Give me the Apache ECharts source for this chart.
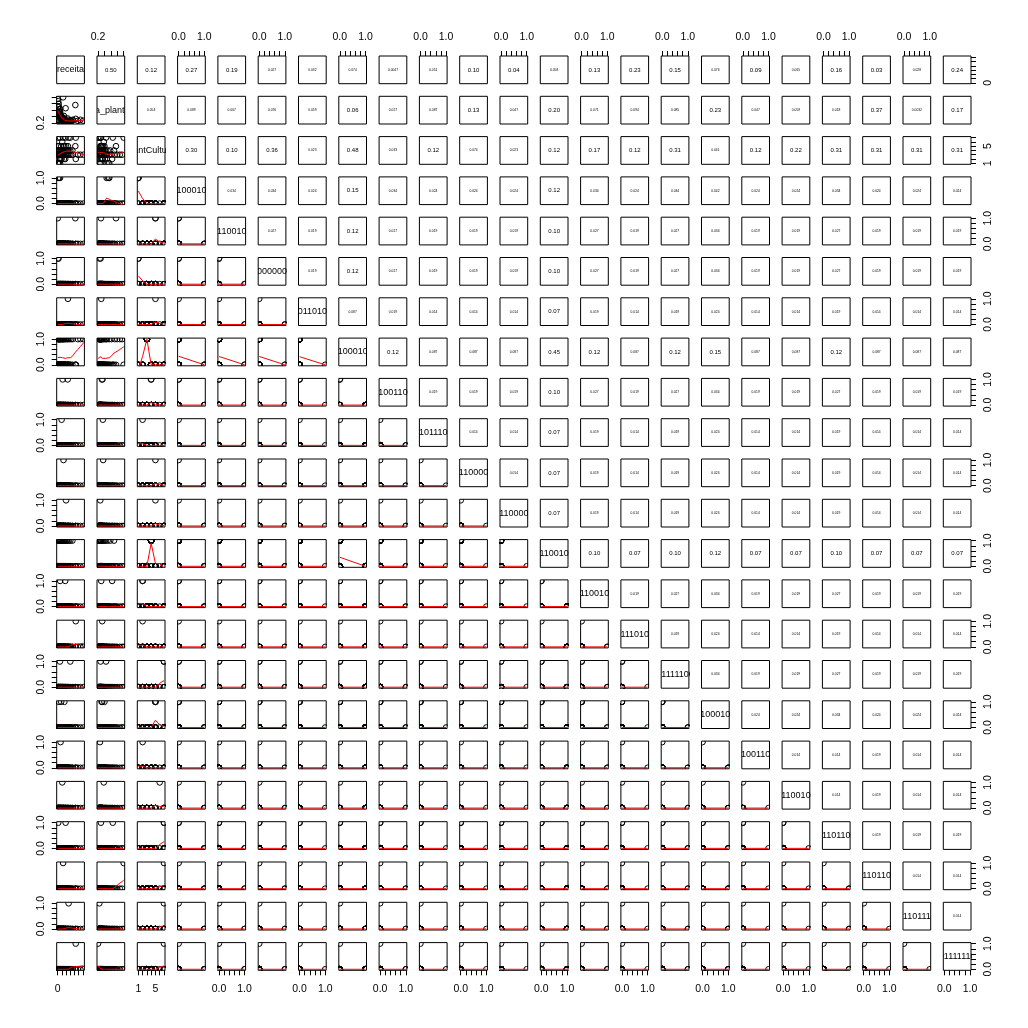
<!DOCTYPE html>
<html><head><meta charset="utf-8">
<script src="https://cdn.jsdelivr.net/npm/echarts@6/dist/echarts.min.js"></script>
<style>html,body{margin:0;padding:0;background:#fff}#c{width:1028px;height:1028px}</style>
</head><body><div id="c"></div>
<script>
// ---------------- data ----------------
const varNames = ["receita", "area_plantada", "quantCulturas",
  "01000100", "01100100", "00000000", "00110100", "01000100", "01001100", "01011100", "01100000",
  "01100000", "01100100", "01100100", "01110100", "01111100", "01000100", "01001100", "01100100",
  "01101100", "01101100", "01101110", "01111110"];

// one entry per observation (72)
const receita = [12,35,58,5,22, 150,95,180,60,430,70,
  3,15,28,40,52,66,80,95,110,125,140,160,180,200,225,250,280,320,360,25,45,70,130,480,540,
  120,240,
  8,20,35,48,62,78,92,105,118,135,150,170,190,210,235,265,300,350,
  4,420,245,140,200,30,85,160,
  110,
  55,300,15,190,130,260,430];
const areaPlantada = [0.52,0.47,0.55,0.25,0.28, 0.42,0.35,0.30,0.64,0.33,0.26,
  0.95,0.88,0.72,0.62,0.55,0.48,0.42,0.38,0.35,0.33,0.30,0.28,0.27,0.25,0.24,0.22,0.23,0.26,0.30,0.80,0.45,0.31,0.29,0.27,0.30,
  0.32,0.34,
  0.70,0.58,0.50,0.44,0.40,0.37,0.34,0.31,0.29,0.27,0.25,0.24,0.23,0.22,0.21,0.22,0.24,0.28,
  0.29,0.76,0.30,0.36,0.27,0.40,0.33,0.31,
  0.38,
  0.45,0.28,0.29,0.66,1.00,0.24,0.20];
const quantCulturas = [1,1,1,1,1, 2,2,2,2,2,2,
  3,3,3,3,3,3,3,3,3,3,3,3,3,3,3,3,3,3,3,3,3,3,3,3,3,
  4,4,
  4,4,4,4,4,4,4,4,4,4,4,4,4,4,4,4,4,4,
  5,5,5,5,5,5,5,5,
  6,
  7,7,7,7,7,7,7];
// which binary column (4..23) is 1 for the observation, 0 = none
const categoria = [4,4,4,6,6, 0,10,14,14,15,18,
  8,8,8,8,8,8,8,8,8,8,8,8,8,8,8,8,8,8,8,8,8,8,8,8,8,
  9,9,
  13,13,13,13,13,13,13,13,13,13,13,13,13,13,13,13,13,13,
  5,5,7,11,12,17,17,17,
  19,
  16,16,20,20,21,22,23];
// a fixed extra observation with the largest receita (category 8)
receita.push(610); areaPlantada.push(0.27); quantCulturas.push(3); categoria.push(8);

// correlation text of the upper panels, row by row
const corrRows = [
  ["0.50","0.12","0.27","0.19","0.027","0.032","0.074","0.0047","0.051","0.10","0.04","0.058","0.13","0.23","0.15","0.076","0.09","0.065","0.16","0.03","0.028","0.24"],
  ["0.054","0.089","0.067","0.076","0.059","0.06","0.027","0.087","0.13","0.047","0.20","0.071","0.094","0.085","0.23","0.047","0.059","0.018","0.37","0.0032","0.17"],
  ["0.30","0.10","0.36","0.023","0.48","0.033","0.12","0.074","0.023","0.12","0.17","0.12","0.31","0.041","0.12","0.22","0.31","0.31","0.31","0.31"],
  ["0.034","0.034","0.024","0.15","0.034","0.024","0.024","0.024","0.12","0.034","0.024","0.034","0.042","0.024","0.024","0.034","0.024","0.024","0.024"],
  ["0.027","0.019","0.12","0.027","0.019","0.019","0.019","0.10","0.027","0.019","0.027","0.034","0.019","0.019","0.027","0.019","0.019","0.019"],
  ["0.019","0.12","0.027","0.019","0.019","0.019","0.10","0.027","0.019","0.027","0.034","0.019","0.019","0.027","0.019","0.019","0.019"],
  ["0.087","0.019","0.014","0.014","0.014","0.07","0.019","0.014","0.019","0.024","0.014","0.014","0.019","0.014","0.014","0.014"],
  ["0.12","0.087","0.087","0.087","0.45","0.12","0.087","0.12","0.15","0.087","0.087","0.12","0.087","0.087","0.087"],
  ["0.019","0.019","0.019","0.10","0.027","0.019","0.027","0.034","0.019","0.019","0.027","0.019","0.019","0.019"],
  ["0.014","0.014","0.07","0.019","0.014","0.019","0.024","0.014","0.014","0.019","0.014","0.014","0.014"],
  ["0.014","0.07","0.019","0.014","0.019","0.024","0.014","0.014","0.019","0.014","0.014","0.014"],
  ["0.07","0.019","0.014","0.019","0.024","0.014","0.014","0.019","0.014","0.014","0.014"],
  ["0.10","0.07","0.10","0.12","0.07","0.07","0.10","0.07","0.07","0.07"],
  ["0.019","0.027","0.034","0.019","0.019","0.027","0.019","0.019","0.019"],
  ["0.019","0.024","0.014","0.014","0.019","0.014","0.014","0.014"],
  ["0.034","0.019","0.019","0.027","0.019","0.019","0.019"],
  ["0.024","0.024","0.034","0.024","0.024","0.024"],
  ["0.014","0.014","0.019","0.014","0.014"],
  ["0.014","0.019","0.014","0.014"],
  ["0.019","0.019","0.019"],
  ["0.014","0.014"],
  ["0.014"]
];

// axis ticks and tick labels
const receitaTicks = [0,100,200,300,400,500,600], receitaLabels = [0];
const areaTicks = [0.2,0.4,0.6,0.8,1.0], areaLabels = [0.2];
const quantTicks = [1,2,3,4,5,6,7], quantLabels = [1,5];
const binTicks = [0,0.2,0.4,0.6,0.8,1.0], binLabels = [0,1];

// ---------------- build ----------------
const NV = varNames.length;
const columns = [receita, areaPlantada, quantCulturas];
for (let v = 4; v <= NV; v++) columns.push(categoria.map(c => (c === v ? 1 : 0)));

function axisSpec(v) {
  if (v === 0) return {ticks: receitaTicks, labels: receitaLabels, fmt: x => String(x)};
  if (v === 1) return {ticks: areaTicks, labels: areaLabels, fmt: x => x.toFixed(1)};
  if (v === 2) return {ticks: quantTicks, labels: quantLabels, fmt: x => String(x)};
  return {ticks: binTicks, labels: binLabels, fmt: x => x.toFixed(1)};
}
const ranges = columns.map(col => {
  const lo = Math.min(...col), hi = Math.max(...col), p = 0.04 * (hi - lo);
  return [lo - p, hi + p];
});

// R's lowess (clowess port)
function lowess(xIn, yIn, f, nsteps) {
  const n = xIn.length;
  const o = [...Array(n).keys()].sort((a, b) => (xIn[a] - xIn[b]) || (a - b));
  const x = [0].concat(o.map(i => xIn[i]));
  const y = [0].concat(o.map(i => yIn[i]));
  const ys = new Array(n + 1).fill(0), rw = new Array(n + 1).fill(1), res = new Array(n + 1).fill(0);
  const delta = 0.01 * (x[n] - x[1]);
  const ns = Math.max(2, Math.min(n, Math.floor(f * n + 1e-7)));
  function lowest(xs, nleft, nright, userw) {
    const range = x[n] - x[1];
    const h = Math.max(xs - x[nleft], x[nright] - xs);
    const h9 = 0.999 * h, h1 = 0.001 * h;
    const w = res;
    let a = 0, j = nleft;
    while (j <= n) {
      w[j] = 0;
      const r = Math.abs(x[j] - xs);
      if (r <= h9) {
        if (r <= h1) w[j] = 1; else { const q = r / h; const t = 1 - q * q * q; w[j] = t * t * t; }
        if (userw) w[j] *= rw[j];
        a += w[j];
      } else if (x[j] > xs) break;
      j++;
    }
    const nrt = j - 1;
    if (a <= 0) return null;
    for (j = nleft; j <= nrt; j++) w[j] /= a;
    if (h > 0) {
      a = 0;
      for (j = nleft; j <= nrt; j++) a += w[j] * x[j];
      let b = xs - a, c = 0;
      for (j = nleft; j <= nrt; j++) c += w[j] * (x[j] - a) * (x[j] - a);
      if (Math.sqrt(c) > 0.001 * range) {
        b /= c;
        for (j = nleft; j <= nrt; j++) w[j] *= (b * (x[j] - a) + 1);
      }
    }
    let s = 0;
    for (j = nleft; j <= nrt; j++) s += w[j] * y[j];
    return s;
  }
  let iter = 1;
  while (iter <= nsteps + 1) {
    let nleft = 1, nright = ns, last = 0, i = 1;
    for (;;) {
      if (nright < n) {
        const d1 = x[i] - x[nleft], d2 = x[nright + 1] - x[i];
        if (d1 > d2) { nleft++; nright++; continue; }
      }
      const fit = lowest(x[i], nleft, nright, iter > 1);
      ys[i] = fit === null ? y[i] : fit;
      if (last < i - 1) {
        const denom = x[i] - x[last];
        for (let j = last + 1; j < i; j++) {
          const alpha = (x[j] - x[last]) / denom;
          ys[j] = alpha * ys[i] + (1 - alpha) * ys[last];
        }
      }
      last = i;
      const cut = x[last] + delta;
      for (i = last + 1; i <= n; i++) {
        if (x[i] > cut) break;
        if (x[i] === x[last]) { ys[i] = ys[last]; last = i; }
      }
      i = Math.max(last + 1, i - 1);
      if (last >= n) break;
    }
    for (let k = 1; k <= n; k++) res[k] = y[k] - ys[k];
    let sc = 0;
    for (let k = 1; k <= n; k++) sc += Math.abs(res[k]);
    sc /= n;
    if (iter > nsteps) break;
    const arr = [];
    for (let k = 1; k <= n; k++) arr.push(Math.abs(res[k]));
    arr.sort((a, b) => a - b);
    const m1 = Math.floor(n / 2);
    let cmad;
    if (n % 2 === 0) { const m2 = n - m1 - 1; cmad = 3 * (arr[m1] + arr[m2]); } else cmad = 6 * arr[m1];
    if (cmad < 1e-7 * sc) break;
    const c9 = 0.999 * cmad, c1 = 0.001 * cmad;
    for (let k = 1; k <= n; k++) {
      const r = Math.abs(res[k]);
      rw[k] = r <= c1 ? 1 : (r <= c9 ? Math.pow(1 - (r / cmad) * (r / cmad), 2) : 0);
    }
    iter++;
  }
  const out = [];
  for (let k = 1; k <= n; k++) out.push([x[k], ys[k]]);
  return out;
}

const L = {x0: 56.7, y0: 56, step: 40.3, size: 27.7};
const FONT = 'Liberation Sans';
const grids = [], xAxes = [], yAxes = [], series = [];

function makeAxis(v, k, dim, pos) {
  const s = axisSpec(v);
  const isY = dim === 'y';
  return {
    gridIndex: k, type: 'value', min: ranges[v][0], max: ranges[v][1],
    show: !!pos, position: pos || (isY ? 'left' : 'bottom'),
    axisLine: {show: false, onZero: false}, splitLine: {show: false}, axisPointer: {show: false},
    axisTick: {show: true, inside: false, length: 5, customValues: s.ticks, lineStyle: {color: '#000', width: 1}},
    axisLabel: {show: true, customValues: s.labels, formatter: s.fmt, fontSize: 10.5, fontFamily: FONT, color: '#000',
      rotate: isY ? 90 : 0,
      margin: isY ? (pos === 'left' ? 10 : 12) : 13}
  };
}

for (let i = 0; i < NV; i++) {
  for (let j = 0; j < NV; j++) {
    const k = grids.length;
    grids.push({left: L.x0 + L.step * j, top: L.y0 + L.step * i, width: L.size, height: L.size,
      show: true, borderColor: '#000', borderWidth: 1, backgroundColor: 'transparent', outerBoundsMode: 'none'});
    let xPos = null, yPos = null;
    if (i === 0 && (j + 1) % 2 === 0) xPos = 'top';
    if (i === NV - 1 && (j + 1) % 2 === 1) xPos = 'bottom';
    if (j === 0 && (i + 1) % 2 === 0) yPos = 'left';
    if (j === NV - 1 && (i + 1) % 2 === 1) yPos = 'right';
    xAxes.push(makeAxis(j, k, 'x', xPos));
    yAxes.push(makeAxis(i, k, 'y', yPos));
    const mid = [(ranges[j][0] + ranges[j][1]) / 2, (ranges[i][0] + ranges[i][1]) / 2];
    if (i > j) {
      const xs = columns[j], ysv = columns[i];
      const pts = xs.map((xv, n) => [xv, ysv[n]]);
      series.push({type: 'custom', coordinateSystem: 'cartesian2d', xAxisIndex: k, yAxisIndex: k,
        clip: true, silent: true, animation: false, data: pts, z: 2,
        renderItem: (params, api) => {
          const p = api.coord([api.value(0), api.value(1)]);
          return {type: 'circle', shape: {cx: p[0], cy: p[1], r: 2.8}, style: {fill: 'none', stroke: '#000', lineWidth: 1}};
        }});
      series.push({type: 'line', xAxisIndex: k, yAxisIndex: k, data: lowess(xs, ysv, 2 / 3, 3),
        symbol: 'none', showSymbol: false, clip: true, silent: true, animation: false, z: 3,
        lineStyle: {color: '#ff0000', width: 1}});
    } else if (i === j) {
      const name = varNames[i];
      series.push({type: 'custom', coordinateSystem: 'cartesian2d', xAxisIndex: k, yAxisIndex: k,
        clip: true, silent: true, animation: false, data: [mid], z: 2,
        renderItem: (params) => {
          const cs = params.coordSys;
          return {type: 'text', x: cs.x + cs.width / 2, y: cs.y + cs.height / 2,
            style: {text: name, fontSize: 9, fontFamily: FONT, fill: '#000', align: 'center', verticalAlign: 'middle'}};
        }});
    } else {
      const txt = corrRows[i][j - i - 1];
      const fs = txt.length <= 4 ? 6 : 3.3;
      series.push({type: 'custom', coordinateSystem: 'cartesian2d', xAxisIndex: k, yAxisIndex: k,
        clip: false, silent: true, animation: false, data: [mid], z: 2,
        renderItem: (params) => {
          const cs = params.coordSys;
          return {type: 'text', x: cs.x + cs.width / 2, y: cs.y + cs.height / 2,
            style: {text: txt, fontSize: fs, fontFamily: FONT, fill: '#000', align: 'center', verticalAlign: 'middle'}};
        }});
    }
  }
}

const chart = echarts.init(document.getElementById('c'), null, {renderer: 'canvas', devicePixelRatio: 1});
chart.setOption({
  backgroundColor: '#ffffff',
  animation: false,
  tooltip: {show: false},
  grid: grids, xAxis: xAxes, yAxis: yAxes, series: series
});
</script>
</body></html>
